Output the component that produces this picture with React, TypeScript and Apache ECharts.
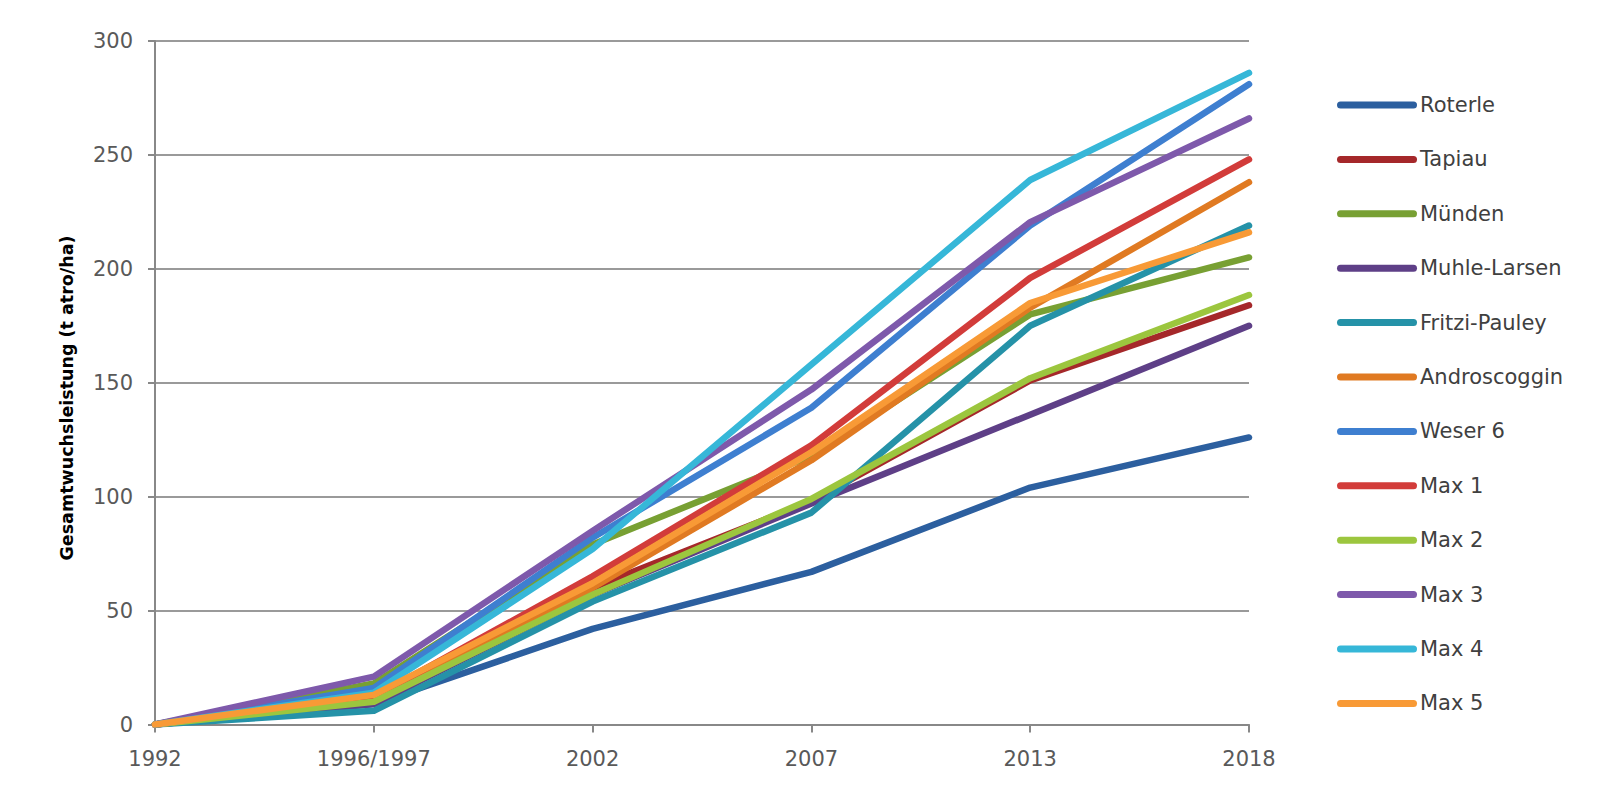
import React, { useEffect, useRef } from "react";
import * as echarts from "echarts";

const categories = ["1992", "1996/1997", "2002", "2007", "2013", "2018"];

const seriesNames = [
  "Roterle",
  "Tapiau",
  "Münden",
  "Muhle-Larsen",
  "Fritzi-Pauley",
  "Androscoggin",
  "Weser 6",
  "Max 1",
  "Max 2",
  "Max 3",
  "Max 4",
  "Max 5",
];

const yAxisTitle = "Gesamtwuchsleistung (t atro/ha)";

const roterle = [0, 9, 42, 67, 104, 126];
const tapiau = [0, 10, 60, 98, 151, 184];
const muenden = [0, 18, 79, 118, 180, 205];
const muhleLarsen = [0, 9, 57, 97, 136, 175];
const fritziPauley = [0, 6, 54, 93, 175, 219];
const androscoggin = [0, 12, 60, 116, 183, 238];
const weser6 = [0, 16, 82, 139, 219, 281];
const max1 = [0, 12, 65, 122.5, 196, 248];
const max2 = [0, 10, 57, 99, 152, 188.5];
const max3 = [0, 21, 85, 147, 220.5, 266];
const max4 = [0, 14, 77, 158, 239, 286];
const max5 = [0, 13, 62, 119.5, 185, 216];

const seriesValues = [
  roterle,
  tapiau,
  muenden,
  muhleLarsen,
  fritziPauley,
  androscoggin,
  weser6,
  max1,
  max2,
  max3,
  max4,
  max5,
];

const colors = [
  "#2c5f9f",
  "#a5282a",
  "#78a033",
  "#5e3f87",
  "#2592a8",
  "#e07a22",
  "#3e7fd0",
  "#d23c3a",
  "#9cc63e",
  "#7e59ab",
  "#36b7d8",
  "#f89a36",
];

const yTicks = [0, 50, 100, 150, 200, 250, 300];

export default function App() {
  const ref = useRef<HTMLDivElement>(null);

  useEffect(() => {
    if (!ref.current) return;
    const chart = echarts.init(ref.current, null, { renderer: "svg" });
    const font = "DejaVu Sans";
    chart.setOption({
      animation: false,
      backgroundColor: "#ffffff",
      color: colors,
      grid: { left: 147, right: 343, top: 33, bottom: 65.5, containLabel: false },
      graphic: [
        {
          type: "text",
          x: 59,
          y: 390,
          rotation: Math.PI / 2,
          style: {
            text: yAxisTitle,
            fontFamily: font,
            fontSize: 17.5,
            fontWeight: "bold",
            fill: "#000000",
            align: "center",
            verticalAlign: "middle",
          },
        },
      ],
      legend: {
        orient: "vertical",
        left: 1324,
        top: 80,
        icon: "path://M3.5,0 L76.5,0 A3.5,3.5 0 0 1 76.5,7 L3.5,7 A3.5,3.5 0 0 1 3.5,0 Z",
        itemWidth: 80,
        itemHeight: 7,
        itemGap: 30.4,
        textStyle: {
          fontFamily: font,
          fontSize: 21,
          color: "#404040",
          lineHeight: 24,
          padding: [0, 0, 0, -2],
        },
        data: seriesNames,
      },
      xAxis: {
        type: "category",
        data: categories,
        boundaryGap: false,
        axisLine: { lineStyle: { color: "#888888", width: 2 } },
        axisTick: { show: true, length: 8, lineStyle: { color: "#888888", width: 2 }, alignWithLabel: true },
        axisLabel: { fontFamily: font, fontSize: 21, color: "#595959", margin: 24 },
        splitLine: { show: false },
      },
      yAxis: {
        type: "value",
        min: 0,
        max: 300,
        interval: 50,
        axisLine: { show: true, lineStyle: { color: "#888888", width: 2 } },
        axisTick: { show: true, length: 7, lineStyle: { color: "#888888", width: 2 } },
        axisLabel: {
          fontFamily: font,
          fontSize: 21,
          color: "#595959",
          margin: 22,
          formatter: (v: number) => (yTicks.includes(v) ? String(v) : ""),
        },
        splitLine: { show: true, lineStyle: { color: "#9a9a9a", width: 2 } },
      },
      series: seriesNames.map((name, i) => ({
        name,
        type: "line",
        data: seriesValues[i],
        symbol: "none",
        lineStyle: { width: 6.5, color: colors[i], cap: "round", join: "round" },
        itemStyle: { color: colors[i] },
      })),
    });
    return () => chart.dispose();
  }, []);

  return <div ref={ref} style={{ width: 1584, height: 782 }} />;
}
